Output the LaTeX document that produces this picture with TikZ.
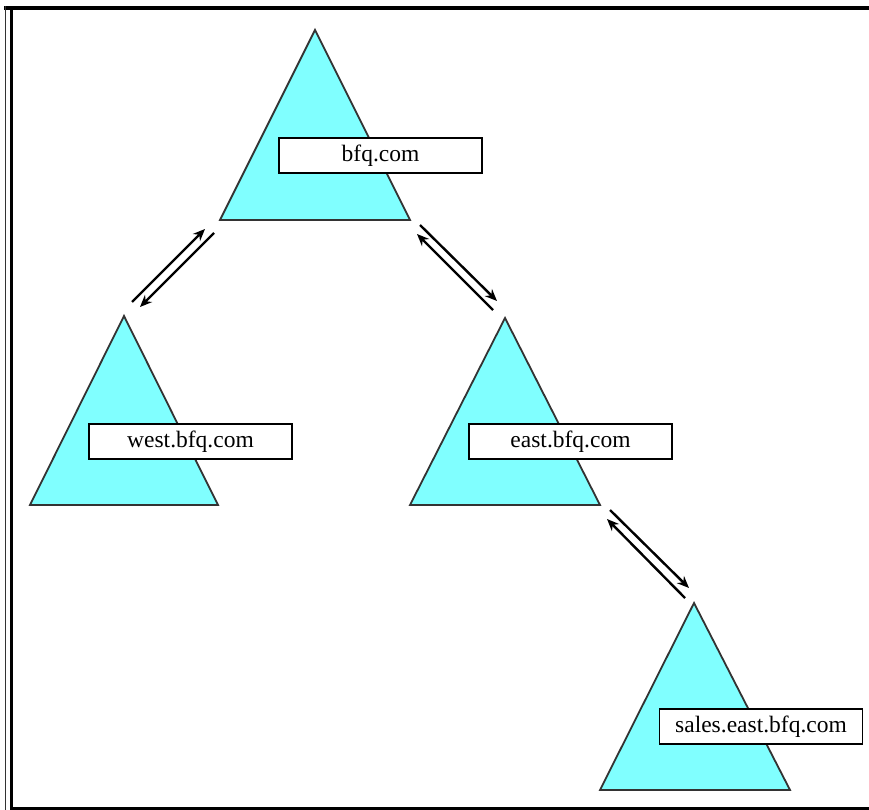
\documentclass[tikz,border=0pt]{standalone}
\usepackage{fontspec}
\setmainfont{Liberation Serif}
\usetikzlibrary{arrows.meta}
\definecolor{tri}{HTML}{80FFFF}
\definecolor{triedge}{HTML}{333333}
\tikzset{
  dnstri/.style={fill=tri, draw=triedge, line width=1.8pt, line join=miter},
  label box/.style={draw=black, fill=white, line width=1.8pt, minimum width=203pt, minimum height=35pt, inner sep=0pt, font=\fontsize{23.5}{25}\selectfont},
  link/.style={draw=black, line width=2.4pt, -{Stealth[length=12pt,width=10pt]}},
  frameline/.style={draw=black}
}
\begin{document}
\begin{tikzpicture}[x=1pt,y=-1pt]
\useasboundingbox (0,0) rectangle (869,810);
% frame
\draw[frameline, line width=3.5pt] (4,8) -- (869,8);
\draw[frameline, line width=1.3pt, draw=black!80] (5.5,6.5) -- (5.5,810);
\draw[frameline, line width=3.2pt] (11.5,8) -- (11.5,810);
\draw[frameline, line width=3pt] (10,808.5) -- (869,808.5);
% triangles
\draw[dnstri] (315,30) -- (410,220) -- (220,220) -- cycle;
\draw[dnstri] (124,316) -- (218,505) -- (30,505) -- cycle;
\draw[dnstri] (505,318) -- (600,505) -- (410,505) -- cycle;
\draw[dnstri] (694,603) -- (790,790) -- (600,790) -- cycle;
% labels
\node[label box] (root) at (380.5,155.5) {bfq.com};
\node[label box] (west) at (190.5,441.5) {west.bfq.com};
\node[label box] (east) at (570.5,441.5) {east.bfq.com};
\node[label box] (sales) at (761,726.5) {sales.east.bfq.com};
% connector end points
\coordinate (a1s) at (132,302); \coordinate (a1e) at (205,229);
\coordinate (b1s) at (214,233); \coordinate (b1e) at (140,307);
\coordinate (a2s) at (420,225); \coordinate (a2e) at (497,301);
\coordinate (b2s) at (493,310); \coordinate (b2e) at (417,234);
\coordinate (a3s) at (610,510); \coordinate (a3e) at (689,588);
\coordinate (b3s) at (685,598); \coordinate (b3e) at (607,519);
\draw[link] (a1s) -- (a1e);
\draw[link] (b1s) -- (b1e);
\draw[link] (a2s) -- (a2e);
\draw[link] (b2s) -- (b2e);
\draw[link] (a3s) -- (a3e);
\draw[link] (b3s) -- (b3e);
\end{tikzpicture}
\end{document}
